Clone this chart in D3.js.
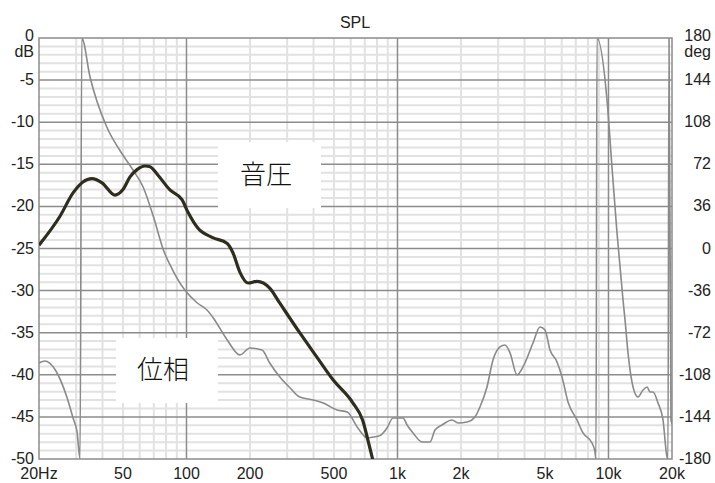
<!DOCTYPE html>
<html>
<head>
<meta charset="utf-8">
<script src="https://cdn.jsdelivr.net/npm/d3@7"></script>
<style>
  body { margin: 0; background: #fff; }
  svg { display: block; }
</style>
</head>
<body>
<div id="chart"></div>
<script>
// Size of the whole picture
const w = 715;
const h = 483;
// Plot area edges
const plotL = 39, plotR = 672, plotT = 38, plotB = 459;

// SPL curve (Hz, dB)
const splFreq = [20, 25.1, 29.0, 32.3, 35.6, 39.8, 45.8, 50, 54.0, 58.5, 63.6, 67.2, 73.3, 83.5, 95.2, 101.7, 113.4,
  133, 156, 166, 179, 196, 216, 248, 277, 344, 415, 495, 613, 684, 738, 764];
const splDb = [-24.6, -21.2, -18.4, -17.1, -16.7, -17.2, -18.65, -18.0, -16.5, -15.6, -15.2, -15.3, -16.3, -18.05, -19.2, -20.7, -22.6,
  -23.7, -24.4, -25.5, -27.8, -29.1, -28.9, -29.7, -31.5, -35.0, -37.9, -40.6, -43.3, -45.4, -48.6, -50.1];

// Phase curve (Hz, deg) - wraps from -180 to +180 three times
const phaseFreq = [20, 21.3, 23.9, 27.1, 29.0, 30.3, 31.3, 31.9, 34.9, 41.9, 48.2, 55.8, 62.3, 69.8, 77.9, 86.0, 98.2, 112.5, 125.1,
  133, 156, 179, 200, 228, 248, 277, 310, 344, 398, 445, 517, 578, 644, 719, 770, 826, 892, 952, 1062, 1110, 1185, 1307, 1426,
  1506, 1626, 1813, 1935, 2136, 2330, 2460, 2656, 2836, 3060, 3232, 3415, 3686, 3934, 4389, 4736, 5002, 5283, 5702, 6021, 6430,
  7092, 7572, 8354, 8630, 8726, 8820, 9841, 10390, 10975, 11720, 11978, 12376, 13072, 13804, 14580, 15230, 15736, 16256, 17170,
  18132, 18938, 19140, 19356, 19780, 20000];
const phaseDeg = [-97.9, -96.2, -103.9, -127.0, -145, -156.9, -180, 180, 146.7, 103.9, 84.2, 67.1, 52.6, 26.9, -1.7, -18.4, -35.5, -46.6, -52.6,
  -58.6, -78.2, -91.0, -85.1, -86.8, -97.9, -109.9, -119.3, -127.0, -129.5, -132.1, -138.1, -139.8, -152.6, -162.0, -161.2, -160.0, -153.5, -144.9, -144.9, -150.9, -157.7, -165.4, -165.4,
  -155.2, -150.9, -146.6, -149.2, -148.3, -144.0, -135.5, -118.4, -95.3, -84.2, -82.5, -89.3, -108.1, -101.3, -80.8, -67.1, -69.7, -86.8, -97.0, -109.8, -131.2,
  -146.6, -157.7, -166.3, -174.0, -180, 180, 127, 69.7, 13.3, -44, -61.1, -89.3, -118.4, -127, -121, -118.4, -122.7, -122.7, -132.1,
  -146.6, -178.3, -180, 180, -146.6, -150];

// Tick labels
const xTicks = [20, 50, 100, 200, 500, 1000, 2000, 5000, 10000, 20000];
const xLabels = ["20Hz", "50", "100", "200", "500", "1k", "2k", "5k", "10k", "20k"];
const dbTicks = [0, -5, -10, -15, -20, -25, -30, -35, -40, -45, -50];
const degTicks = [180, 144, 108, 72, 36, 0, -36, -72, -108, -144, -180];

const svg = d3.select("#chart").append("svg")
  .attr("width", w)
  .attr("height", h)
  .style("font-family", "'Liberation Sans', Arial, sans-serif");

// Scales
const x = d3.scaleLog().domain([20, 20000]).range([plotL, plotR]);
const yDb = d3.scaleLinear().domain([-50, 0]).range([plotB, plotT]);
const yDeg = d3.scaleLinear().domain([-180, 180]).range([plotB, plotT]);

// Grid positions (minor = light, major = dark)
const minorX = [];
[10, 100, 1000, 10000].forEach(d => {
  for (let m = 2; m <= 9; m++) {
    const f = d * m;
    if (f > 20 && f < 20000) minorX.push(f);
  }
});
const majorX = [100, 1000, 10000];
const minorY = d3.range(-49, 0).filter(v => v % 5 !== 0);
const majorY = d3.range(-45, 0, 5);

const grid = svg.append("g");
grid.selectAll(".mx").data(minorX).enter().append("line")
  .attr("x1", d => x(d)).attr("x2", d => x(d))
  .attr("y1", plotT).attr("y2", plotB)
  .attr("stroke", "#e2e2e2").attr("stroke-width", 2);
grid.selectAll(".my").data(minorY).enter().append("line")
  .attr("x1", plotL).attr("x2", plotR)
  .attr("y1", d => yDb(d)).attr("y2", d => yDb(d))
  .attr("stroke", "#e2e2e2").attr("stroke-width", 2);
grid.selectAll(".Mx").data(majorX).enter().append("line")
  .attr("x1", d => x(d)).attr("x2", d => x(d))
  .attr("y1", plotT).attr("y2", plotB)
  .attr("stroke", "#8c8c8c").attr("stroke-width", 1.5);
grid.selectAll(".My").data(majorY).enter().append("line")
  .attr("x1", plotL).attr("x2", plotR)
  .attr("y1", d => yDb(d)).attr("y2", d => yDb(d))
  .attr("stroke", "#8c8c8c").attr("stroke-width", 1.5);

// White label boxes that hide the grid
svg.append("rect").attr("x", 218).attr("y", 142).attr("width", 103).attr("height", 66).attr("fill", "#fff");
svg.append("rect").attr("x", 116).attr("y", 338).attr("width", 102).attr("height", 65).attr("fill", "#fff");

// Frame
svg.append("rect")
  .attr("x", plotL).attr("y", plotT)
  .attr("width", plotR - plotL).attr("height", plotB - plotT)
  .attr("fill", "none").attr("stroke", "#8c8c8c").attr("stroke-width", 1.5);

// Clip curves to plot area
svg.append("clipPath").attr("id", "plotClip")
  .append("rect").attr("x", plotL).attr("y", plotT)
  .attr("width", plotR - plotL).attr("height", plotB - plotT);

// Phase curve
const phaseData = phaseFreq.map((f, i) => [f, phaseDeg[i]]);
svg.append("path")
  .datum(phaseData)
  .attr("clip-path", "url(#plotClip)")
  .attr("fill", "none")
  .attr("stroke", "#8a8a8a")
  .attr("stroke-width", 1.6)
  .attr("d", d3.line().x(d => x(d[0])).y(d => yDeg(d[1])).curve(d3.curveMonotoneX));

// SPL curve
const splData = splFreq.map((f, i) => [f, splDb[i]]);
svg.append("path")
  .datum(splData)
  .attr("clip-path", "url(#plotClip)")
  .attr("fill", "none")
  .attr("stroke", "#2e2e1e")
  .attr("stroke-width", 3.2)
  .attr("stroke-linejoin", "round")
  .attr("d", d3.line().x(d => x(d[0])).y(d => yDb(d[1])).curve(d3.curveMonotoneX));

// Title
svg.append("text").attr("x", 355).attr("y", 28)
  .attr("text-anchor", "middle").attr("font-size", 16).attr("fill", "#222")
  .text("SPL");

// Left axis labels
svg.selectAll(".dbl").data(dbTicks).enter().append("text")
  .attr("x", 34)
  .attr("y", d => d === 0 ? 41 : yDb(d) + 5)
  .attr("text-anchor", "end").attr("font-size", 16).attr("fill", "#222")
  .text(d => d);
svg.append("text").attr("x", 34).attr("y", 57)
  .attr("text-anchor", "end").attr("font-size", 16).attr("fill", "#222")
  .text("dB");

// Right axis labels
svg.selectAll(".degl").data(degTicks).enter().append("text")
  .attr("x", 711)
  .attr("y", d => d === 180 ? 41 : yDeg(d) + 5)
  .attr("text-anchor", "end").attr("font-size", 16).attr("fill", "#222")
  .text(d => d);
svg.append("text").attr("x", 711).attr("y", 57)
  .attr("text-anchor", "end").attr("font-size", 16).attr("fill", "#222")
  .text("deg");

// Bottom axis labels
svg.selectAll(".xl").data(xTicks).enter().append("text")
  .attr("x", d => x(d))
  .attr("y", 479)
  .attr("text-anchor", "middle").attr("font-size", 16).attr("fill", "#222")
  .text((d, i) => xLabels[i]);

// Japanese captions
svg.append("text").attr("x", 266).attr("y", 184)
  .attr("text-anchor", "middle").attr("font-size", 26).attr("font-weight", 300)
  .attr("font-family", "'Noto Sans CJK JP', sans-serif").attr("fill", "#111")
  .text("音圧");
svg.append("text").attr("x", 163).attr("y", 379)
  .attr("text-anchor", "middle").attr("font-size", 26).attr("font-weight", 300)
  .attr("font-family", "'Noto Sans CJK JP', sans-serif").attr("fill", "#111")
  .text("位相");
</script>
</body>
</html>
